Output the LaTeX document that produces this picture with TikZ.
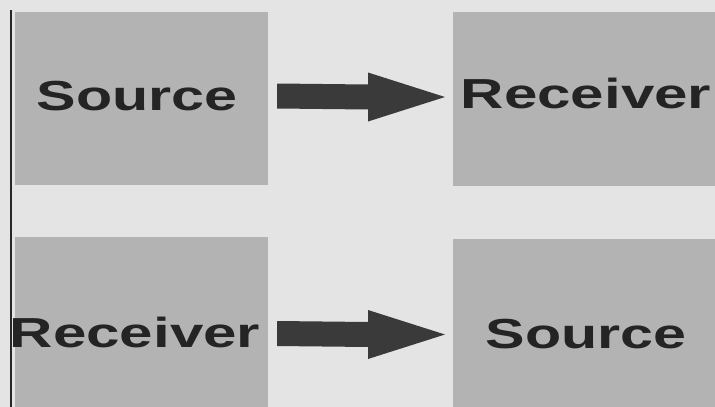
\documentclass[tikz,border=0pt]{standalone}
\usepackage{fontspec}
\setmainfont{Liberation Sans}
\usepackage{graphicx}
\usetikzlibrary{calc}
\definecolor{bgc}{HTML}{E4E4E4}
\definecolor{boxc}{HTML}{B3B3B3}
\definecolor{arrc}{HTML}{3A3A3A}
\definecolor{txtc}{HTML}{242424}
\newcommand{\blockarrow}[2]{%
  \fill[arrc] ($(#1)+(0,-12.5)$) -- ($(#2)+(-77,-12.5)$) -- ($(#2)+(-77,-24.5)$) -- (#2)
    -- ($(#2)+(-77,24.5)$) -- ($(#2)+(-77,12.5)$) -- ($(#1)+(0,12.5)$) -- cycle;}
\begin{document}
\begin{tikzpicture}[x=1pt,y=-1pt,
  boxstyle/.style={fill=boxc,draw=none},
  lbl/.style={font=\bfseries\fontsize{42}{42}\selectfont,text=txtc,anchor=base,inner sep=0}]
\fill[bgc] (0,0) rectangle (715,407);
\useasboundingbox (0,0) rectangle (715,407);
% boxes
\fill[boxstyle] (15,12) rectangle (268,185);
\fill[boxstyle] (453,12) rectangle (715,186);
\fill[boxstyle] (15,237) rectangle (268,407);
\fill[boxstyle] (453,239) rectangle (715,407);
% left rule
\coordinate (ltop) at (11,10);
\coordinate (lbot) at (11,407);
\draw[line width=2pt,black!85] (ltop) -- (lbot);
% labels
\node[lbl] (s1) at (137,110) {\scalebox{1.41}[1]{Source}};
\node[lbl] (r1) at (586,108) {\scalebox{1.43}[1]{Receiver}};
\node[lbl] (r2) at (135,347) {\scalebox{1.43}[1]{Receiver}};
\node[lbl] (s2) at (586,348) {\scalebox{1.41}[1]{Source}};
% arrows
\coordinate (a1) at (277,96);
\coordinate (b1) at (445,97);
\coordinate (a2) at (277,333.5);
\coordinate (b2) at (445,334.5);
\blockarrow{a1}{b1}
\blockarrow{a2}{b2}
\end{tikzpicture}
\end{document}
